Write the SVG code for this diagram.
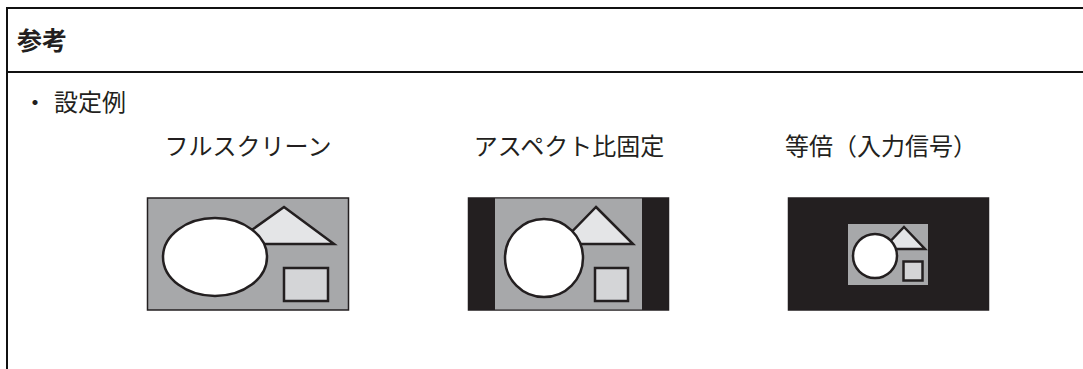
<svg xmlns="http://www.w3.org/2000/svg" width="1083" height="369" viewBox="0 0 1083 369">
<style>
.t{font-family:"Noto Sans CJK JP","Noto Sans",sans-serif;fill:#231f20}
.lbl{font-size:24px;text-anchor:middle}
.frame{stroke:#231f20;stroke-width:1.5}
.shape{stroke:#231f20;stroke-width:2.5}
.gray{fill:#a7a8aa}
.black{fill:#231f20}
.tri{fill:#e4e5e7}
.sq{fill:#d4d5d7}
.circ{fill:#fff}
</style>
<rect width="1083" height="369" fill="#fff"/>
<g id="border" stroke="#111" stroke-width="2" fill="none">
<line x1="7" y1="8" x2="1083" y2="8"/>
<line x1="7" y1="72" x2="1083" y2="72"/>
<line x1="7" y1="7" x2="7" y2="369"/>
</g>
<text class="t" x="17" y="50" font-size="25" font-weight="bold">参考</text>
<text class="t" x="23" y="111" font-size="24">・</text>
<text class="t" x="54" y="111" font-size="24">設定例</text>
<g id="full">
<text class="t lbl" x="248" y="155">フルスクリーン</text>
<rect class="frame gray" x="147.5" y="198" width="201" height="112"/>
<polygon class="shape tri" points="284,207 334,244 232,244"/>
<ellipse class="shape circ" cx="215" cy="257" rx="52" ry="39"/>
<rect class="shape sq" x="284" y="268" width="44" height="33"/>
</g>
<g id="aspect">
<text class="t lbl" x="569" y="155">アスペクト比固定</text>
<rect class="frame black" x="468.5" y="198" width="200" height="112"/>
<rect class="gray" x="495" y="198.5" width="147" height="111"/>
<polygon class="shape tri" points="596,207 633,244 560,244"/>
<circle class="shape circ" cx="544" cy="258" r="39"/>
<rect class="shape sq" x="595" y="268" width="33" height="33"/>
</g>
<g id="native">
<text class="t lbl" x="881" y="155">等倍（入力信号）</text>
<rect class="frame black" x="788.5" y="198" width="200" height="112"/>
<rect class="gray" x="848" y="224" width="80" height="61"/>
<polygon class="shape tri" points="904,227 925,249 883,249"/>
<circle class="shape circ" cx="875" cy="256" r="22"/>
<rect class="shape sq" x="903.5" y="261.5" width="19" height="19"/>
</g>
</svg>
